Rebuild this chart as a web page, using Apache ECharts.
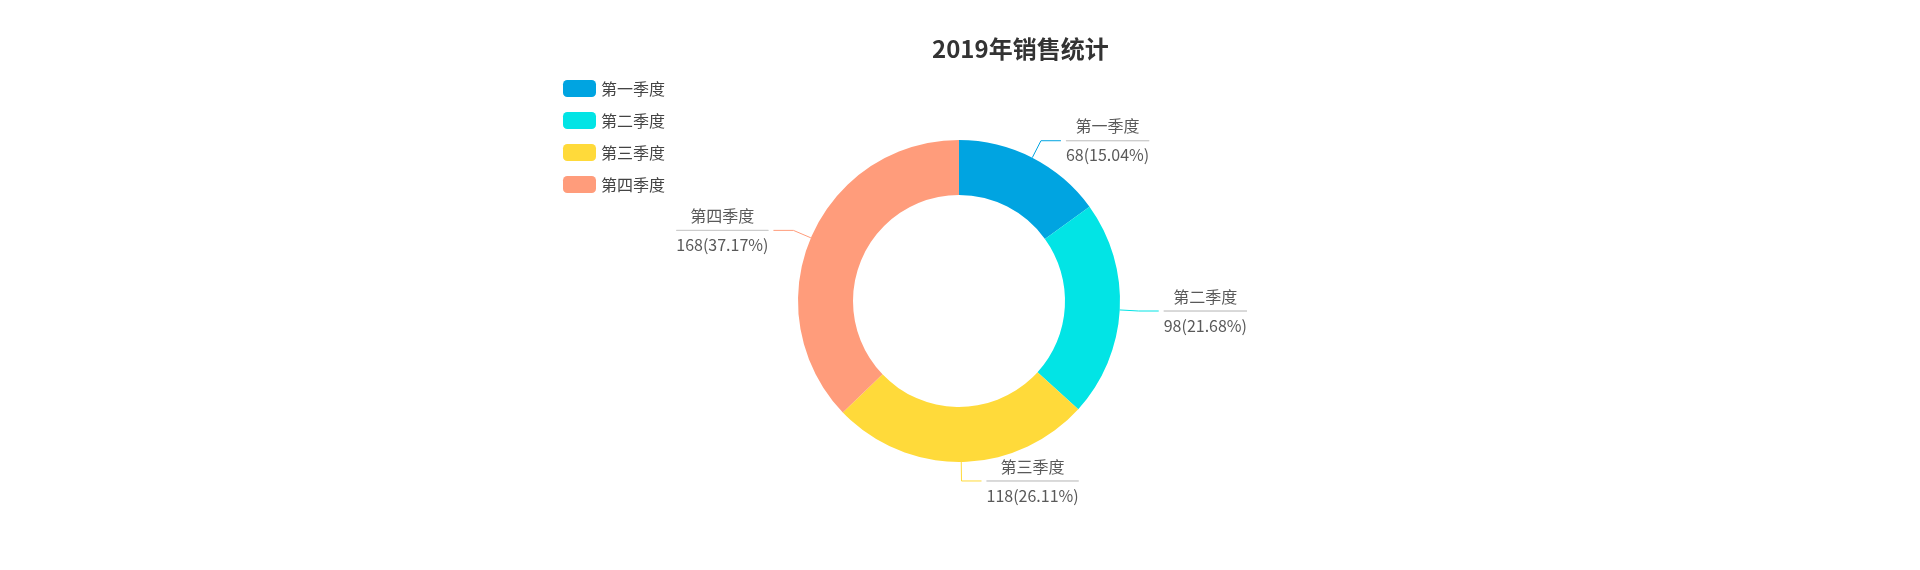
<!DOCTYPE html>
<html>

<head>
  <meta charset="utf-8">
  <title>2019年销售统计</title>
  <script src="https://cdn.jsdelivr.net/npm/echarts@6/dist/echarts.min.js"></script>
  <style>
    html, body { margin: 0; padding: 0; background: #fff; }
  </style>
</head>

<body>
  <div id="main" style="width: 1920px;height:570px;"></div>
  <script>
    // 数据
    var quarters = ['第一季度', '第二季度', '第三季度', '第四季度'];
    var sales = [68, 98, 118, 168];
    var colors = ['#00a4e1', '#02e4e5', '#ffda3a', '#ff9c7b'];

    var myChart = echarts.init(document.getElementById('main'));
    var font = '"Noto Sans CJK SC", "Noto Sans", sans-serif';

    var option = {
      color: colors,
      textStyle: { fontFamily: font },
      title: {
        text: '2019年销售统计',
        left: 927,
        top: 32,
        textStyle: { fontSize: 24, fontWeight: 'bold', color: '#333', fontFamily: font }
      },
      legend: {
        orient: 'vertical',
        left: 558,
        top: 75,
        icon: 'roundRect',
        itemWidth: 33,
        itemHeight: 17,
        itemGap: 15,
        textStyle: { fontSize: 16, color: '#444', fontFamily: font },
        data: quarters
      },
      series: [{
        name: '销售',
        type: 'pie',
        center: [959, 301],
        radius: [106, 161],
        startAngle: 90,
        clockwise: true,
        avoidLabelOverlap: false,
        label: {
          formatter: '{b|{b}}\n{hr|}\n{c|{c}({d}%)}',
          rich: {
            b: { fontSize: 16, lineHeight: 29, color: '#595959', align: 'center', fontFamily: font },
            hr: { borderColor: '#ccc', width: '100%', borderWidth: 1, height: 0 },
            c: { fontSize: 16, lineHeight: 29, color: '#595959', align: 'center', fontFamily: font }
          }
        },
        labelLine: { length: 19, length2: 20 },
        emphasis: { scale: false },
        data: quarters.map(function (q, i) { return { name: q, value: sales[i] }; })
      }]
    };

    myChart.setOption(option);
  </script>
</body>

</html>
